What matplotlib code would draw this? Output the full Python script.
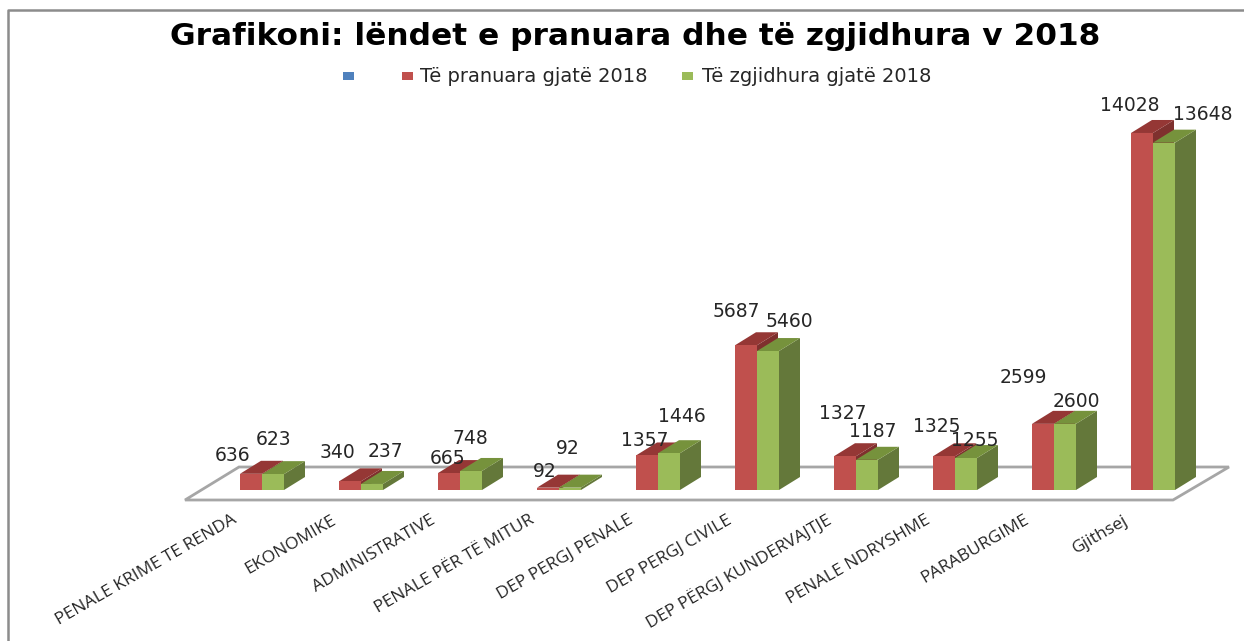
import matplotlib
matplotlib.use('Agg')
import matplotlib.pyplot as plt
from matplotlib.patches import Polygon

categories = ['PENALE KRIME TE RENDA', 'EKONOMIKE', 'ADMINISTRATIVE', 'PENALE PËR TË MITUR',
              'DEP PERGJ PENALE', 'DEP PERGJ CIVILE', 'DEP PËRGJ KUNDERVAJTJE',
              'PENALE NDRYSHME', 'PARABURGIME', 'Gjithsej']
pranuara = [636, 340, 665, 92, 1357, 5687, 1327, 1325, 2599, 14028]
zgjidhura = [623, 237, 748, 92, 1446, 5460, 1187, 1255, 2600, 13648]

W, H = 1244, 641
# scale of the picture
x_step = 99.0
x0_px = 240.0
y_base_px = 490.0
px_per_val = 0.02545

# label offsets from the front top of each bar, in pixels (y down)
lab_a = [(-18, -18), (-13, -29), (-1, -15), (-3, -16), (-2, -15), (-10, -34), (-2, -43), (-7, -30), (-20, -46), (-12, -27)]
lab_b = [(1, -35), (13, -32), (-1, -32), (-2, -39), (13, -37), (21, -30), (6, -28), (9, -18), (11, -22), (39, -28)]

dpi = 100
fig = plt.figure(figsize=(W / dpi, H / dpi), dpi=dpi)
ax = fig.add_axes([0, 0, 1, 1])
ax.set_xlim(-x0_px / x_step, (W - x0_px) / x_step)
ax.set_ylim(-(H - y_base_px) / px_per_val, y_base_px / px_per_val)
ax.axis('off')

bw = 22 / x_step
dx = 21 / x_step
dy = 13 / px_per_val


def px(p):
    return (p - x0_px) / x_step


def py(p):
    return (y_base_px - p) / px_per_val


# frame
ax.plot([px(8), px(8), px(W + 5)], [py(H + 5), py(9.5), py(9.5)], color='#8c8c8c', lw=1.8)

# floor
floor = [(px(185), py(500)), (px(1173), py(500)), (px(1229), py(467)), (px(239), py(467))]
ax.add_patch(Polygon(floor, closed=True, fc='white', ec='#a6a6a6', lw=2, zorder=1))


def bar3d(x, v, front, top, side):
    ax.add_patch(Polygon([(x + bw, 0), (x + bw + dx, dy), (x + bw + dx, v + dy), (x + bw, v)], fc=side, ec='none', zorder=2))
    ax.add_patch(Polygon([(x, v), (x + dx, v + dy), (x + bw + dx, v + dy), (x + bw, v)], fc=top, ec='none', zorder=2))
    ax.bar(x, v, bw, align='edge', color=front, zorder=2)


for i, c in enumerate(categories):
    bar3d(i, pranuara[i], '#c0504d', '#953735', '#7f302e')
    bar3d(i + bw, zgjidhura[i], '#9bbb59', '#76923c', '#64783a')
    ax.annotate(str(pranuara[i]), (i + bw / 2, pranuara[i]), xytext=(lab_a[i][0], -lab_a[i][1]),
                textcoords='offset pixels', ha='center', va='center', fontsize=13.5, color='#262626', zorder=5)
    ax.annotate(str(zgjidhura[i]), (i + 1.5 * bw, zgjidhura[i]), xytext=(lab_b[i][0], -lab_b[i][1]),
                textcoords='offset pixels', ha='center', va='center', fontsize=13.5, color='#262626', zorder=5)
    ax.text(i - 8 / x_step, py(512), c, rotation=30, rotation_mode='anchor', ha='right', va='top',
            fontsize=12.6, family='Open Sans', color='#262626', zorder=5)

# title
ax.text(px(635), py(36.5), 'Grafikoni: lëndet e pranuara dhe të zgjidhura v 2018', ha='center', va='center',
        fontsize=22.5, fontweight='bold', color='black')

# legend
for lx, tx, col, name in [(343, 361, '#4f81bd', ''), (402, 420, '#c0504d', 'Të pranuara gjatë 2018'),
                          (682, 702, '#9bbb59', 'Të zgjidhura gjatë 2018')]:
    ax.bar(px(lx), -8 / px_per_val, 11 / x_step, bottom=py(72), align='edge', color=col)
    ax.text(px(tx), py(76.5), name, ha='left', va='center', fontsize=14, color='#262626')

fig.savefig('out.png', dpi=dpi)
